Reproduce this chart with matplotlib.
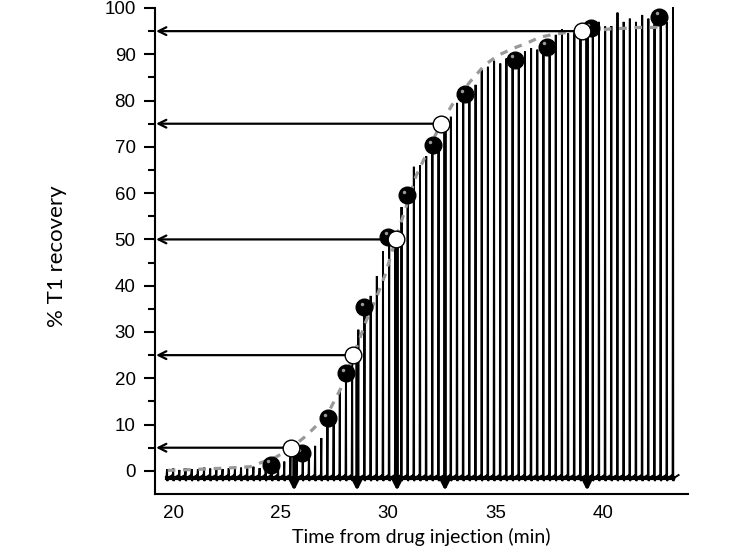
import numpy as np
import matplotlib
matplotlib.use("Agg")
import matplotlib.pyplot as plt
from matplotlib.transforms import offset_copy

plt.rcParams["font.family"] = ["Liberation Sans", "DejaVu Sans"]

# stimulation train: first twitch time and interval (min)
first_twitch = 19.72
twitch_interval = 0.287

# twitch heights (% T1 recovery)
twitch_height = [0.3, 0.5, 0.2, 0.6, 0.4, 0.3, 0.7, 0.5, 0.8, 0.4, 0.6, 0.3, 0.7, 0.5, 0.9, 0.6, 0.8,
                 1.0, 1.3, 2.0, 4.8, 3.0, 3.8, 4.5, 5.4, 7.1, 11.4, 10.0, 17.1, 21.2, 24.5, 30.5, 35.4,
                 37.8, 42.1, 47.4, 50.5, 50.0, 57.0, 59.6, 65.7, 66.0, 68.0, 70.4, 69.0, 75.1, 76.5,
                 79.5, 81.4, 81.6, 83.4, 86.6, 87.3, 88.6, 88.0, 89.1, 88.8, 89.5, 90.6, 91.3, 91.0,
                 91.6, 90.9, 94.2, 95.4, 94.5, 94.9, 95.0, 95.6, 95.8, 97.0, 96.0, 96.1, 99.0, 97.0,
                 97.7, 97.0, 98.5, 97.7, 96.5, 98.2, 97.0, 100.2]

# measured recovery points (filled)
rec_time = [24.54, 25.99, 27.2, 28.03, 28.9, 30.02, 30.87, 32.1, 33.58, 35.9, 37.38, 39.43, 42.62]
rec_value = [1.3, 3.8, 11.4, 21.1, 35.4, 50.6, 59.6, 70.4, 81.4, 88.8, 91.6, 95.6, 98.1]

# fitted curve (dashed)
fit_time = [19.75, 21.0, 22.5, 23.6, 24.05, 24.8, 25.5, 26.2, 27.15, 27.77, 28.4, 29.0, 29.47,
            29.86, 30.35, 30.8, 31.3, 31.8, 32.45, 33.0, 33.8, 34.5, 35.13, 35.83, 36.45, 37.07,
            37.69, 38.3, 39.0, 39.7, 40.33, 40.93, 41.64, 42.33, 42.9]
fit_value = [0.1, 0.3, 0.6, 0.9, 1.7, 3.0, 5.0, 7.6, 12.0, 17.5, 25.0, 32.6, 37.6,
             42.3, 50.0, 56.5, 63.7, 68.6, 75.0, 79.2, 84.0, 87.7, 89.8, 91.3, 92.4, 93.7,
             94.3, 94.7, 95.0, 95.1, 95.5, 95.6, 95.8, 95.8, 96.0]

# threshold crossings (open circles) and where the down arrows land
level = [5, 25, 50, 75, 95]
level_time = [25.48, 28.39, 30.35, 32.45, 39.0]
arrow_time = [25.63, 28.56, 30.42, 32.65, 39.26]

xmin, xmax = 19.16, 43.95
ymin, ymax = -5, 100

fig = plt.figure(figsize=(7.45, 5.55), dpi=100)
ax = fig.add_axes([155 / 745, 61 / 555, 533 / 745, 486 / 555])
ax.set_xlim(xmin, xmax)
ax.set_ylim(ymin, ymax)

# raw twitch trace: spike up, undershoot, recover
twitch_time = first_twitch + twitch_interval * np.arange(len(twitch_height))
tx, ty = [], []
for t, h in zip(twitch_time, twitch_height):
    tx += [t - 0.02, t, t + 0.01, t + 0.09, t + twitch_interval - 0.03]
    ty += [-1.0, h, -2.2, -1.4, -0.9]
ax.plot(tx, ty, color="black", lw=1.4, solid_joinstyle="miter", clip_on=False, zorder=2)
ax.plot([twitch_time[0], twitch_time[-1]], [-1.5, -1.5], color="black", lw=3.0, zorder=2)

# fitted sigmoid
ax.plot(fit_time, fit_value, color="#999999", lw=2.3, dashes=(2.4, 2.4), zorder=3)

# arrows to axes
for lv, lt, at in zip(level, level_time, arrow_time):
    ax.annotate("", xy=(xmin + 0.05, lv), xytext=(lt, lv),
                arrowprops=dict(arrowstyle="->", lw=1.6, color="black",
                                mutation_scale=14, shrinkA=0, shrinkB=0), zorder=4)
    ax.annotate("", xy=(at, -4.3), xytext=(at, lv),
                arrowprops=dict(arrowstyle="->", lw=2.6, color="black",
                                mutation_scale=14, shrinkA=0, shrinkB=0), zorder=4)

# recovery points: shiny black balls
ax.plot(rec_time, rec_value, "o", ms=12, color="black", zorder=5, clip_on=False)
hl = offset_copy(ax.transData, fig=fig, x=-2.0, y=2.5, units="points")
ax.plot(rec_time, rec_value, "o", ms=2.5, color="#9a9a9a", mew=0, transform=hl, zorder=6,
        clip_on=False)

# threshold crossings: open circles
ax.plot(level_time, level, "o", ms=12, mfc="white", mec="black", mew=1.0, zorder=7)

for s in ["top", "right"]:
    ax.spines[s].set_visible(False)
for s in ["left", "bottom"]:
    ax.spines[s].set_linewidth(1.5)

ax.set_xticks([20, 25, 30, 35, 40])
ax.set_yticks(np.arange(0, 101, 10))
ax.set_yticks(np.arange(5, 100, 10), minor=True)
ax.tick_params(axis="x", length=0, pad=8, labelsize=13.5)
ax.tick_params(axis="y", which="major", length=8, width=1.5, pad=6, labelsize=13.5)
ax.tick_params(axis="y", which="minor", length=5, width=1.5)

ax.set_xlabel("Time from drug injection (min)", family="Lato", fontsize=14)
ax.set_ylabel("% T1 recovery", family="Lato", fontsize=16)
ax.xaxis.set_label_coords(0.5, -0.07)
ax.yaxis.set_label_coords(-0.165, 0.49)

fig.savefig("out.png", dpi=100)
